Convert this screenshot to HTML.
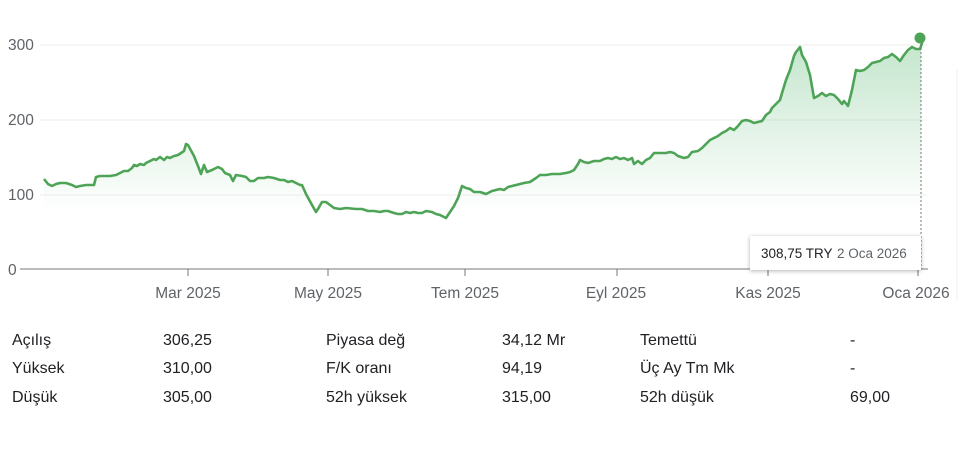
<!DOCTYPE html>
<html><head><meta charset="utf-8"><style>
body{margin:0;width:960px;height:474px;background:#fff;font-family:"Liberation Sans",sans-serif;overflow:hidden;position:relative}
.t{position:absolute;font-size:16px;color:#202124}
</style></head><body>
<svg width="960" height="310" style="position:absolute;left:0;top:0">
<defs><linearGradient id="g" x1="0" y1="0" x2="0" y2="1"><stop offset="0" stop-color="#34a853" stop-opacity="0.3"/><stop offset="0.75" stop-color="#34a853" stop-opacity="0"/></linearGradient></defs>
<g stroke="#eeeeee" stroke-width="1"><line x1="40" y1="45" x2="927" y2="45"/><line x1="40" y1="120" x2="927" y2="120"/><line x1="40" y1="195" x2="927" y2="195"/></g>
<g font-size="15.5" fill="#5f6368" font-family="Liberation Sans"><text x="8" y="50">300</text><text x="8" y="125">200</text><text x="8" y="200">100</text><text x="8" y="275">0</text></g>
<path fill="url(#g)" stroke="none" d="M44,179 L48,184 52,186 56,184 60,183 66,183 72,185 76,187 80,186 86,185 92,185 94,185 96,177 100,176 110,176 116,175 120,173 124,171 128,171 132,168 134,165 137,166 140,164 144,165 146,163 150,161 154,159 156,160 160,157 164,160 167,157 170,158 174,156 178,155 184,151 186,144 188,145 194,156 198,166 201,174 204,165 207,172 212,170 218,167 222,169 225,173 230,175 233,181 236,175 242,176 246,177 250,181 254,181 258,178 264,178 268,177 274,178 280,180 284,180 288,182 292,181 296,183 300,185 302,185 306,194 312,205 316,212 318,209 322,202 326,202 330,205 334,208 340,209 346,208 356,209 362,209 368,211 374,211 380,212 384,211 388,211 394,213 398,214 402,214 406,212 410,213 414,212 418,213 422,213 426,211 432,212 436,214 440,215 446,218 454,206 458,198 462,186 466,188 470,189 474,192 480,192 486,194 492,191 496,190 500,189 504,190 508,187 512,186 516,185 524,183 530,182 536,178 540,175 546,175 552,174 560,174 566,173 570,172 574,170 578,164 580,160 584,162 588,163 594,161 600,161 604,159 608,158 612,159 616,157 620,159 624,158 628,160 632,158 634,164 638,161 642,164 646,160 650,158 654,153 660,153 666,153 670,152 674,153 678,156 684,158 688,157 692,152 698,151 702,148 706,144 710,140 714,138 718,136 722,133 726,131 730,128 734,130 738,126 742,121 746,120 750,121 754,123 758,122 762,121 766,115 770,112 772,108 776,104 780,100 782,93 786,80 790,70 794,56 796,52 800,47 802,55 806,62 810,75 814,98 818,96 822,93 826,96 830,94 834,95 838,99 842,104 844,101 848,106 852,90 856,70 860,71 864,70 868,67 872,63 876,62 880,61 884,58 888,57 892,54 896,57 900,61 904,55 908,50 912,47 916,49 920,49 923,40 921,38 L921,269 L44,269 Z"/>
<polyline fill="none" stroke="#4ea456" stroke-width="2.6" stroke-linejoin="round" points="44,179 48,184 52,186 56,184 60,183 66,183 72,185 76,187 80,186 86,185 92,185 94,185 96,177 100,176 110,176 116,175 120,173 124,171 128,171 132,168 134,165 137,166 140,164 144,165 146,163 150,161 154,159 156,160 160,157 164,160 167,157 170,158 174,156 178,155 184,151 186,144 188,145 194,156 198,166 201,174 204,165 207,172 212,170 218,167 222,169 225,173 230,175 233,181 236,175 242,176 246,177 250,181 254,181 258,178 264,178 268,177 274,178 280,180 284,180 288,182 292,181 296,183 300,185 302,185 306,194 312,205 316,212 318,209 322,202 326,202 330,205 334,208 340,209 346,208 356,209 362,209 368,211 374,211 380,212 384,211 388,211 394,213 398,214 402,214 406,212 410,213 414,212 418,213 422,213 426,211 432,212 436,214 440,215 446,218 454,206 458,198 462,186 466,188 470,189 474,192 480,192 486,194 492,191 496,190 500,189 504,190 508,187 512,186 516,185 524,183 530,182 536,178 540,175 546,175 552,174 560,174 566,173 570,172 574,170 578,164 580,160 584,162 588,163 594,161 600,161 604,159 608,158 612,159 616,157 620,159 624,158 628,160 632,158 634,164 638,161 642,164 646,160 650,158 654,153 660,153 666,153 670,152 674,153 678,156 684,158 688,157 692,152 698,151 702,148 706,144 710,140 714,138 718,136 722,133 726,131 730,128 734,130 738,126 742,121 746,120 750,121 754,123 758,122 762,121 766,115 770,112 772,108 776,104 780,100 782,93 786,80 790,70 794,56 796,52 800,47 802,55 806,62 810,75 814,98 818,96 822,93 826,96 830,94 834,95 838,99 842,104 844,101 848,106 852,90 856,70 860,71 864,70 868,67 872,63 876,62 880,61 884,58 888,57 892,54 896,57 900,61 904,55 908,50 912,47 916,49 920,49 923,40 921,38"/>
<line x1="921" y1="40" x2="921" y2="269" stroke="#777" stroke-width="1" stroke-dasharray="2,2"/>
<line x1="20" y1="269" x2="928" y2="269" stroke="#777" stroke-width="1"/>
<g stroke="#777"><line x1="188" y1="269" x2="188" y2="276"/><line x1="328" y1="269" x2="328" y2="276"/><line x1="465" y1="269" x2="465" y2="276"/><line x1="617" y1="269" x2="617" y2="276"/><line x1="768" y1="269" x2="768" y2="276"/><line x1="918" y1="269" x2="918" y2="276"/></g>
<rect x="750" y="236" width="171" height="34" fill="#fff" style="filter:drop-shadow(0 1px 2px rgba(0,0,0,.3))"/>
<text x="761" y="258" font-size="13.5" fill="#202124">308,75 TRY</text><text x="837" y="258" font-size="13.5" fill="#5f6368">2 Oca 2026</text>
<circle cx="920" cy="38" r="5.5" fill="#4ea456"/>
<g font-size="15.5" fill="#5f6368" text-anchor="middle"><text x="188" y="298">Mar 2025</text><text x="328" y="298">May 2025</text><text x="465" y="298">Tem 2025</text><text x="616" y="298">Eyl 2025</text><text x="768" y="298">Kas 2025</text><text x="916" y="298">Oca 2026</text></g>
<line x1="957" y1="70" x2="957" y2="300" stroke="#eee"/>
</svg>
<div class="t" style="left:12px;top:332px">Açılış</div><div class="t" style="left:163px;top:332px">306,25</div>
<div class="t" style="left:326px;top:332px">Piyasa değ</div><div class="t" style="left:502px;top:332px">34,12 Mr</div>
<div class="t" style="left:640px;top:332px">Temettü</div><div class="t" style="left:850px;top:332px">-</div>
<div class="t" style="left:12px;top:360px">Yüksek</div><div class="t" style="left:163px;top:360px">310,00</div>
<div class="t" style="left:326px;top:360px">F/K oranı</div><div class="t" style="left:502px;top:360px">94,19</div>
<div class="t" style="left:640px;top:360px">Üç Ay Tm Mk</div><div class="t" style="left:850px;top:360px">-</div>
<div class="t" style="left:12px;top:389px">Düşük</div><div class="t" style="left:163px;top:389px">305,00</div>
<div class="t" style="left:326px;top:389px">52h yüksek</div><div class="t" style="left:502px;top:389px">315,00</div>
<div class="t" style="left:640px;top:389px">52h düşük</div><div class="t" style="left:850px;top:389px">69,00</div>
</body></html>
